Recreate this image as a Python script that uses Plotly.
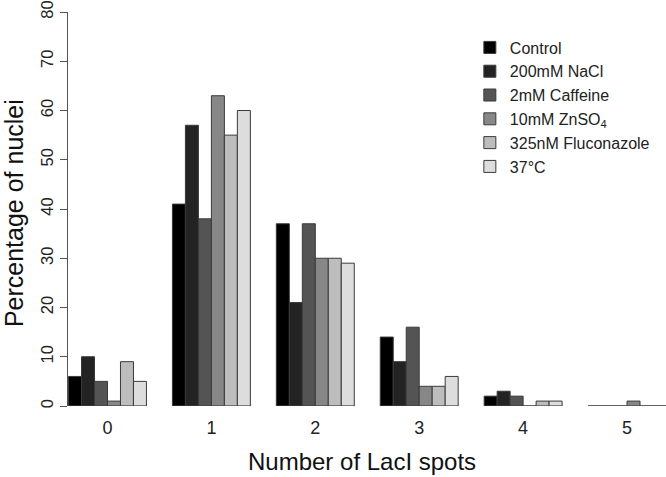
import plotly.graph_objects as go

# number of LacI spots per nucleus
spots = [0, 1, 2, 3, 4, 5]
spot_labels = ["0", "1", "2", "3", "4", "5"]

conditions = ["Control", "200mM NaCl", "2mM Caffeine", "10mM ZnSO<sub>4</sub>",
              "325nM Fluconazole", "37°C"]
greys = ["#000000", "#232323", "#545454", "#878787", "#bdbdbd", "#dddddd"]

# percentage of nuclei, one list per condition
control = [6, 41, 37, 14, 2, 0]
nacl = [10, 57, 21, 9, 3, 0]
caffeine = [5, 38, 37, 16, 2, 0]
znso4 = [1, 63, 30, 4, 0, 1]
fluconazole = [9, 55, 30, 4, 1, 0]
heat = [5, 60, 29, 6, 1, 0]

series = [control, nacl, caffeine, znso4, fluconazole, heat]

FONT = "Liberation Sans, Arial, sans-serif"
GAP = 0.25

fig = go.Figure()
for name, vals, col in zip(conditions, series, greys):
    fig.add_trace(go.Bar(
        x=spots, y=vals, name=name,
        marker=dict(color=col, line=dict(color="#3a3a3a", width=1)),
    ))

# R draws zero-height bars as a line, so put a baseline under each group
half = (1 - GAP) / 2
for s in spots:
    fig.add_shape(type="line", xref="x", yref="y",
                  x0=s - half, x1=s + half, y0=0, y1=0,
                  line=dict(color="#4a4a4a", width=1.5))

# axis titles as annotations so they sit where the original has them
fig.add_annotation(text="Number of LacI spots", xref="paper", yref="paper",
                   x=0.4916, y=-0.142, xanchor="center", yanchor="middle",
                   showarrow=False, font=dict(size=24, color="#111111"))
fig.add_annotation(text="Percentage of nuclei", xref="paper", yref="paper",
                   x=-0.09, y=0.49, xanchor="center", yanchor="middle",
                   textangle=-90, showarrow=False,
                   font=dict(size=25, color="#111111"))

fig.update_layout(
    width=666, height=477,
    margin=dict(l=68, r=0, t=12, b=71),
    template="simple_white",
    plot_bgcolor="white", paper_bgcolor="white",
    barmode="group", bargap=GAP, bargroupgap=0,
    font=dict(family=FONT, color="#222222"),
    showlegend=True,
    legend=dict(
        x=0.672, y=0.953, xanchor="left", yanchor="top",
        font=dict(size=16, color="#222222"),
        bgcolor="rgba(0,0,0,0)",
    ),
    xaxis=dict(
        range=[-0.38, 5.375], automargin=False,
        tickvals=spots, ticktext=spot_labels,
        showline=False, ticks="", ticklabelstandoff=9,
        tickfont=dict(size=18, color="#222222"),
    ),
    yaxis=dict(
        range=[0, 80], tickvals=[0, 10, 20, 30, 40, 50, 60, 70, 80],
        automargin=False, ticklabeloverflow="allow",
        showline=True, linecolor="#555555", linewidth=1,
        ticks="outside", ticklen=7, tickcolor="#555555",
        tickangle=-90, showgrid=False, zeroline=False,
        tickfont=dict(size=16.5, color="#222222"),
    ),
)

# drop the default body margin so the figure fills the window
fig.write_html("out.html", config={"displayModeBar": False},
               post_script="document.body.style.margin='0';")
